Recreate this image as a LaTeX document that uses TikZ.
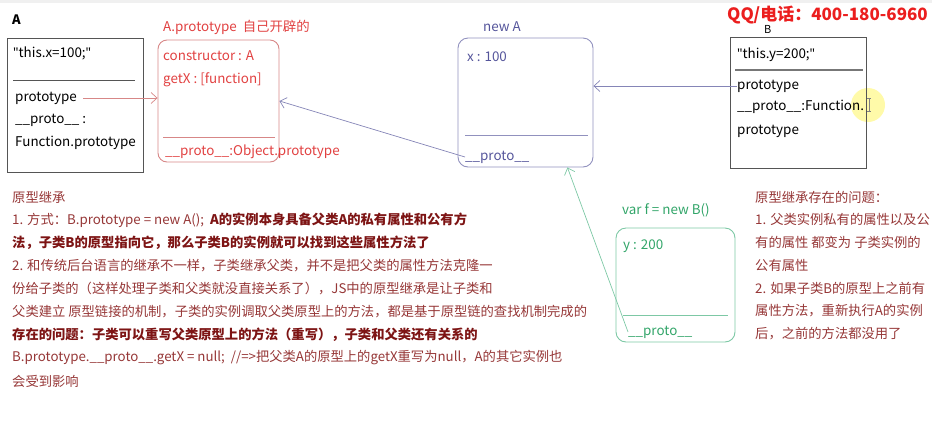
\documentclass[tikz,border=0pt]{standalone}
\usepackage{fontspec}
\setmainfont{Noto Sans CJK SC}
\newfontfamily\quotefont{Noto Sans}
\newcommand{\dq}{{\quotefont\char34}}
\usepackage{tikz}
\usetikzlibrary{arrows.meta,calc}
\definecolor{ProtoRed}{RGB}{225, 65, 65}
\definecolor{ProtoRedLine}{RGB}{215, 135, 135}
\definecolor{InstBlue}{RGB}{85, 85, 155}
\definecolor{InstBlueLine}{RGB}{145, 145, 190}
\definecolor{ChildGreen}{RGB}{50, 165, 105}
\definecolor{ChildGreenLine}{RGB}{125, 200, 165}
\definecolor{NoteRed}{RGB}{150, 55, 55}
\definecolor{NoteBold}{RGB}{125, 20, 20}
\definecolor{PhoneRed}{RGB}{235, 30, 30}
\definecolor{BoxGray}{RGB}{85, 85, 85}

\begin{document}
\begin{tikzpicture}[x=1pt, y=-1pt,
  every node/.style={inner sep=0pt, anchor=west, font=\fontsize{13.4}{15}\selectfont},
  fnbox/.style={draw=BoxGray, line width=0.9pt, anchor=center},
  protobox/.style={draw=ProtoRedLine, line width=0.9pt, rounded corners=9pt, anchor=center},
  instbox/.style={draw=InstBlueLine, line width=0.9pt, rounded corners=10pt, anchor=center},
  childbox/.style={draw=ChildGreenLine, line width=0.9pt, rounded corners=10pt, anchor=center},
  note/.style={text=NoteRed, font=\fontsize{13.3}{23}\selectfont},
  tip/.style={-{Straight Barb[length=6pt, width=11pt]}, line width=0.7pt}
]
  \useasboundingbox (0, 0) rectangle (932, 424);
  \fill[gray!12] (0, 0) rectangle (932, 2.5);

  % Function A
  \node[font=\fontsize{13}{15}\selectfont\bfseries] (alabel) at (12, 20) {A};
  \node[fnbox, minimum width=136pt, minimum height=134pt] (abox) at (75, 105) {};
  \node (athis) at (13, 53) {\dq this.x=100;\dq};
  \draw[BoxGray, line width=0.9pt] (13, 80) -- (135, 80);
  \node (aproto) at (15, 98) {prototype};
  \node (a__) at (15, 120) {\_\_proto\_\_ :};
  \node (afn) at (15, 143) {Function.prototype};

  % A.prototype
  \node[text=ProtoRed] (plabel) at (163, 27) {A.prototype\ \ 自己开辟的};
  \node[protobox, minimum width=121pt, minimum height=122pt] (pbox) at (218.5, 101) {};
  \node[text=ProtoRed] (pcons) at (163, 56) {constructor : A};
  \node[text=ProtoRed] (pgetx) at (163, 80) {getX : [function]};
  \draw[ProtoRedLine, line width=0.9pt] (163, 137) -- (275, 137);
  \node[text=ProtoRed] (pproto) at (165, 152) {\_\_proto\_\_:Object.prototype};

  % new A
  \node[text=InstBlue] (nlabel) at (483, 27) {new A};
  \node[instbox, minimum width=135pt, minimum height=129pt] (nbox) at (525.5, 102.5) {};
  \node[text=InstBlue] (nx) at (467, 57) {x : 100};
  \draw[InstBlueLine, line width=0.9pt] (465, 135) -- (588, 135);
  \node[text=InstBlue] (nproto) at (465, 157) {\_\_proto\_\_};
  \coordinate (nhit) at ([xshift=-26pt]nbox.south east);

  % Function B
  \fill[yellow!75, opacity=0.45] (868, 105) circle (17);
  \node[font=\fontsize{11}{13}\selectfont] (blabel) at (764, 29) {B};
  \node[fnbox, minimum width=136pt, minimum height=131pt] (bbox) at (798, 102.5) {};
  \node (bthis) at (737, 55) {\dq this.y=200;\dq};
  \draw[BoxGray!80, line width=1.4pt] (735, 70) -- (863, 70);
  \node (bproto) at (737, 86) {prototype};
  \node (b__) at (737, 107) {\_\_proto\_\_:Function.};
  \node (bproto2) at (737, 131) {prototype};
  \draw[gray, line width=0.7pt] (869, 98) -- (869, 111) (867, 98) -- (871, 98) (867, 111) -- (871, 111);

  % var f
  \node[text=ChildGreen] (flabel) at (622, 210) {var f = new B()};
  \node[childbox, minimum width=119pt, minimum height=114pt] (fbox) at (675.5, 285) {};
  \node[text=ChildGreen] (fy) at (623, 246) {y : 200};
  \draw[ChildGreenLine, line width=0.9pt] (623, 315) -- (728, 315);
  \node[text=ChildGreen] (fproto) at (628, 332) {\_\_proto\_\_};

  % Links
  \draw[tip, ProtoRedLine] (aproto.east) ++(6, 0) -- (aproto.east -| pbox.west);
  \draw[tip, InstBlueLine!80!InstBlue] (nproto.west) -- (pbox.east);
  \draw[tip, InstBlueLine!80!InstBlue] (bproto.west) -- (bproto.west -| nbox.east);
  \draw[tip, ChildGreenLine] (fproto.west) -- (nhit);

  % Phone
  \node[text=PhoneRed, font=\fontsize{17}{20}\selectfont\bfseries] (phone) at (727, 15) {QQ/电话：400-180-6960};

  % Notes
  \foreach \n/\txt in {
    0/{原型继承},
    1/{1. 方式：B.prototype = new A();\ \ {\bfseries\color{NoteBold}A的实例本身具备父类A的私有属性和公有方}},
    2/{{\bfseries\color{NoteBold}法，子类B的原型指向它，那么子类B的实例就可以找到这些属性方法了}},
    3/{2. 和传统后台语言的继承不一样，子类继承父类，并不是把父类的属性方法克隆一},
    4/{份给子类的（这样处理子类和父类就没直接关系了），JS中的原型继承是让子类和},
    5/{父类建立 原型链接的机制，子类的实例调取父类原型上的方法，都是基于原型链的查找机制完成的},
    6/{{\bfseries\color{NoteBold}存在的问题：子类可以重写父类原型上的方法（重写），子类和父类还有关系的}},
    7/{B.prototype.\_\_proto\_\_.getX = null;\ \ //=>把父类A的原型上的getX重写为null，A的其它实例也},
    8/{会受到影响}}
    \node[note] (left\n) at (12, {197 + 23*\n}) {\txt};

  \foreach \n/\txt in {
    0/{原型继承存在的问题：},
    1/{1. 父类实例私有的属性以及公},
    2/{有的属性 都变为 子类实例的},
    3/{公有属性},
    4/{2. 如果子类B的原型上之前有},
    5/{属性方法，重新执行A的实例},
    6/{后，之前的方法都没用了}}
    \node[note] (right\n) at (755, {197 + 22.8*\n}) {\txt};
\end{tikzpicture}
\end{document}
